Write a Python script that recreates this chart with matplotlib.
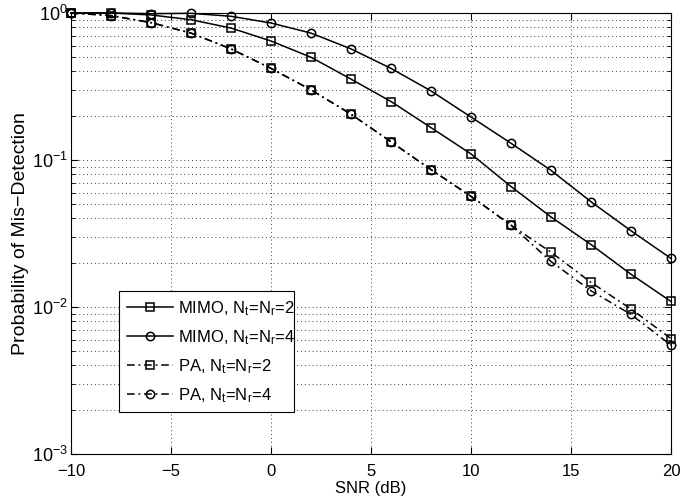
import numpy as np
import matplotlib
matplotlib.use('Agg')
import matplotlib.pyplot as plt
from matplotlib.ticker import LogLocator, NullFormatter

plt.rcParams['font.family'] = ['Liberation Sans', 'DejaVu Sans']
plt.rcParams['mathtext.fontset'] = 'custom'
plt.rcParams['mathtext.rm'] = 'Liberation Sans'
plt.rcParams['mathtext.it'] = 'Liberation Sans'
plt.rcParams['font.size'] = 12

snr = np.arange(-10, 21, 2)

mimo_2 = [1.0, 1.0, 0.97, 0.90, 0.79, 0.645, 0.50, 0.355, 0.25, 0.166,
          0.11, 0.066, 0.041, 0.0266, 0.0167, 0.0109]
mimo_4 = [1.0, 1.0, 0.99, 0.995, 0.95, 0.855, 0.73, 0.57, 0.42, 0.295,
          0.196, 0.13, 0.085, 0.052, 0.033, 0.0214]
pa_2 = [1.0, 0.96, 0.86, 0.73, 0.57, 0.42, 0.30, 0.205, 0.133, 0.086,
        0.0566, 0.036, 0.0236, 0.0147, 0.0097, 0.0061]
pa_4 = [1.0, 0.96, 0.86, 0.73, 0.57, 0.42, 0.30, 0.205, 0.133, 0.086,
        0.0566, 0.036, 0.0204, 0.0129, 0.0089, 0.0055]

labels = ['MIMO, N$_t$=N$_r$=2', 'MIMO, N$_t$=N$_r$=4',
          'PA, N$_t$=N$_r$=2', 'PA, N$_t$=N$_r$=4']

fig = plt.figure(figsize=(6.95, 5.01), dpi=100)
ax = fig.add_axes([71 / 695, 1 - 454 / 501, 600 / 695, 441 / 501])

dashdot = (0, (5, 2.5, 1.2, 2.5))
style = dict(color='k', linewidth=1.1, fillstyle='none',
             markeredgewidth=1.1, clip_on=False)
ax.semilogy(snr, mimo_2, linestyle='-', marker='s', markersize=5.2,
            label=labels[0], **style)
ax.semilogy(snr, mimo_4, linestyle='-', marker='o', markersize=6,
            label=labels[1], **style)
ax.semilogy(snr, pa_2, linestyle=dashdot, marker='s', markersize=5.2,
            label=labels[2], **style)
ax.semilogy(snr, pa_4, linestyle=dashdot, marker='o', markersize=6,
            label=labels[3], **style)

ax.set_xlim(-10, 20)
ax.set_ylim(1e-3, 1)
ax.set_xticks(np.arange(-10, 21, 5))
ax.yaxis.set_minor_locator(LogLocator(base=10, subs=np.arange(2, 10)))
ax.yaxis.set_minor_formatter(NullFormatter())
ax.tick_params(which='both', direction='in', top=True, right=True)
ax.tick_params(which='major', length=5)
ax.tick_params(which='minor', length=3)
ax.tick_params(axis='x', labelsize=12, pad=7)
ax.tick_params(axis='y', labelsize=13, pad=2)
grid = dict(linestyle=(0, (1, 3)), color='0.25', linewidth=0.7)
ax.grid(which='major', **grid)
ax.grid(which='minor', axis='y', **grid)
ax.set_axisbelow(True)

ax.set_xlabel('SNR (dB)', fontsize=12, labelpad=2)
ax.set_ylabel('Probability of Mis\u2212Detection', fontsize=14, labelpad=2)

leg = ax.legend(loc='lower left', bbox_to_anchor=(0.08, 0.095, 0.292, 0.284),
                mode='expand', fancybox=False, edgecolor='k', framealpha=1,
                borderaxespad=0, labelspacing=0.62, handlelength=2.8,
                handletextpad=0.3, borderpad=0.45, fontsize=12)
leg.get_frame().set_linewidth(0.8)

fig.savefig('out.png', dpi=100)
